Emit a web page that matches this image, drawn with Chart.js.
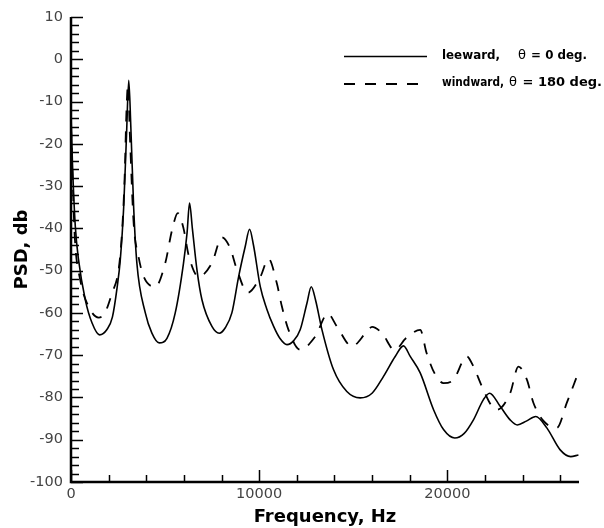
<!DOCTYPE html>
<html><head><meta charset="utf-8">
<script src="https://cdn.jsdelivr.net/npm/chart.js@4"></script>
<style>html,body{margin:0;padding:0;background:#fff}#wrap{width:604px;height:528px}</style>
</head><body><div id="wrap"><canvas id="c" width="604" height="528"></canvas></div>
<script>
const leewardFreq = [0,80,230,400,760,1120,1520,1900,2200,2450,2620,2800,2950,3070,3180,3330,3500,3950,4300,4690,5100,5540,5980,6170,6300,6450,6700,6960,7490,7880,8200,8550,8910,9260,9490,9700,10060,10400,10770,11100,11480,11850,12180,12540,12770,13000,13340,13950,14660,15370,16000,16610,17230,17670,18030,18560,19270,19800,20400,20900,21390,21920,22250,22810,23340,23720,24200,24700,25290,26000,26560,26970];
const leewardPsd = [-13,-25,-39.6,-47.4,-56.9,-62.4,-65.2,-64,-61,-54,-47.4,-35,-18,-5,-16,-35,-48.2,-60,-64.8,-67.1,-66,-60,-48.2,-41,-34,-40,-50,-56.9,-63.2,-64.8,-63.5,-60,-51.4,-44.3,-40.2,-44,-53.8,-59,-63.2,-66,-67.5,-66.5,-64,-57.7,-53.8,-57,-64,-73.4,-78.6,-80.1,-79,-75,-70.3,-67.8,-70.3,-74.2,-82.9,-87.6,-89.6,-88.5,-85.3,-80.5,-79,-82.1,-85.3,-86.5,-85.6,-84.5,-87.2,-92.4,-94,-93.6];
const windwardFreq = [0,100,200,490,850,1470,1800,2180,2530,2710,2850,2950,3030,3130,3330,3590,3860,4480,5010,5370,5680,5980,6250,6780,7490,8020,8460,8820,9400,10060,10500,10940,11210,11560,12180,12980,13650,14130,14930,15730,16000,16530,17200,17800,18560,18900,19360,19800,20330,20860,21040,21390,21840,22370,22630,23340,23780,24230,24580,25100,25820,26350,26890];
const windwardPsd = [-16,-30,-42,-52.2,-57.7,-61.1,-60,-55.3,-49.8,-41,-28,-12,-6,-18,-38.8,-46.7,-51.4,-53.8,-48.2,-40.4,-36.4,-40,-46.3,-51.4,-48.2,-42.1,-44.7,-49.8,-55.2,-51.5,-47.2,-53,-58.5,-64,-68.7,-65.6,-60.2,-63.2,-67.9,-64.4,-63.3,-64.8,-68.8,-66,-64,-69.5,-74.6,-76.6,-75.8,-71.1,-70.3,-72.7,-77.4,-82.1,-82.9,-79,-72.7,-75.8,-81.3,-85.5,-87.2,-81.3,-75];
const seriesNames = ['leeward,', 'windward,'];
const seriesAngles = ['\u03B8 = 0 deg.', '\u03B8 = 180 deg.'];
const xTickLabels = [0, 10000, 20000];
const yTickLabels = [-100, -90, -80, -70, -60, -50, -40, -30, -20, -10, 0, 10];
const xMin = 0, xMax = 27000, xMajor = 10000, xMinor = 2000;
const yMin = -100, yMax = 10, yMajor = 10, yMinor = 2;

const toPts = (fs, vs) => fs.map((f, i) => ({x: f, y: vs[i]}));

const axisPlugin = {
  id: 'axisPlugin',
  afterDraw(chart) {
    const {ctx, chartArea: a, scales: {x, y}} = chart;
    ctx.save();
    ctx.strokeStyle = '#000';
    ctx.lineWidth = 1.5;
    ctx.beginPath();
    for (let v = xMin; v <= xMax; v += xMinor) {
      const px = Math.round(x.getPixelForValue(v)) + 0.5;
      const len = v % xMajor === 0 ? 12 : 7;
      ctx.moveTo(px, a.bottom); ctx.lineTo(px, a.bottom - len);
    }
    for (let v = yMin; v <= yMax; v += yMinor) {
      const py = Math.round(y.getPixelForValue(v)) + 0.5;
      const len = v % yMajor === 0 ? 12 : 8;
      ctx.moveTo(a.left, py); ctx.lineTo(a.left + len, py);
    }
    ctx.stroke();
    ctx.lineWidth = 2.5;
    ctx.beginPath();
    ctx.moveTo(a.left, a.top); ctx.lineTo(a.left, a.bottom); ctx.lineTo(a.right, a.bottom);
    ctx.stroke();
    // legend
    const ds = chart.data.datasets;
    const rows = [{y: 56.5, angX: 518}, {y: 84, angX: 509}];
    const widths = [[58, 69], [62, 95]];
    rows.forEach((r, i) => {
      ctx.lineWidth = ds[i].borderWidth;
      ctx.setLineDash(ds[i].borderDash || []);
      ctx.beginPath(); ctx.moveTo(344, r.y); ctx.lineTo(427, r.y); ctx.stroke();
      ctx.setLineDash([]);
      ctx.fillStyle = '#000';
      ctx.font = 'bold 13px "DejaVu Sans"';
      ctx.textBaseline = 'middle';
      ctx.textAlign = 'left';
      ctx.fillText(seriesNames[i], 442, r.y - 1, widths[i][0]);
      ctx.font = '13px "DejaVu Sans"';
      ctx.fillText(seriesAngles[i].charAt(0), r.angX, r.y - 1);
      ctx.font = 'bold 13px "DejaVu Sans"';
      ctx.fillText(seriesAngles[i].slice(1), r.angX + 9, r.y - 1, widths[i][1] - 9);
    });
    ctx.restore();
  }
};

new Chart(document.getElementById('c'), {
  type: 'line',
  data: {
    datasets: [
      {label: seriesNames[0], data: toPts(leewardFreq, leewardPsd), borderColor: '#000', borderWidth: 1.6, pointRadius: 0, fill: false, cubicInterpolationMode: 'monotone'},
      {label: seriesNames[1], data: toPts(windwardFreq, windwardPsd), borderColor: '#000', borderWidth: 1.8, borderDash: [11, 10], pointRadius: 0, fill: false, cubicInterpolationMode: 'monotone'}
    ]
  },
  options: {
    responsive: false,
    devicePixelRatio: 1,
    animation: false,
    layout: {padding: {top: 17, right: 25, left: 0, bottom: 0}},
    plugins: {legend: {display: false}, tooltip: {enabled: false}},
    scales: {
      x: {
        type: 'linear', min: xMin, max: xMax,
        grid: {display: false, drawTicks: false}, border: {display: false},
        afterBuildTicks: s => { s.ticks = xTickLabels.map(v => ({value: v})); },
        ticks: {autoSkip: false, padding: 4, color: '#444', maxRotation: 0,
          font: {family: '"DejaVu Sans"', size: 14.5},
          callback: v => String(v)},
        title: {display: true, text: 'Frequency, Hz', color: '#000', padding: {top: 0, bottom: 0},
          font: {family: '"DejaVu Sans"', size: 18, weight: 'bold'}},
        afterFit: s => { s.height = 46; }
      },
      y: {
        min: yMin, max: yMax,
        grid: {display: false, drawTicks: false}, border: {display: false},
        afterBuildTicks: s => { s.ticks = yTickLabels.map(v => ({value: v})); },
        ticks: {autoSkip: false, padding: 8, color: '#444',
          font: {family: '"DejaVu Sans"', size: 14.5}},
        title: {display: true, text: 'PSD, db', color: '#000', padding: {top: 12, bottom: 0},
          font: {family: '"DejaVu Sans"', size: 18, weight: 'bold'}},
        afterFit: s => { s.width = 71; }
      }
    }
  },
  plugins: [axisPlugin]
});
</script></body></html>
